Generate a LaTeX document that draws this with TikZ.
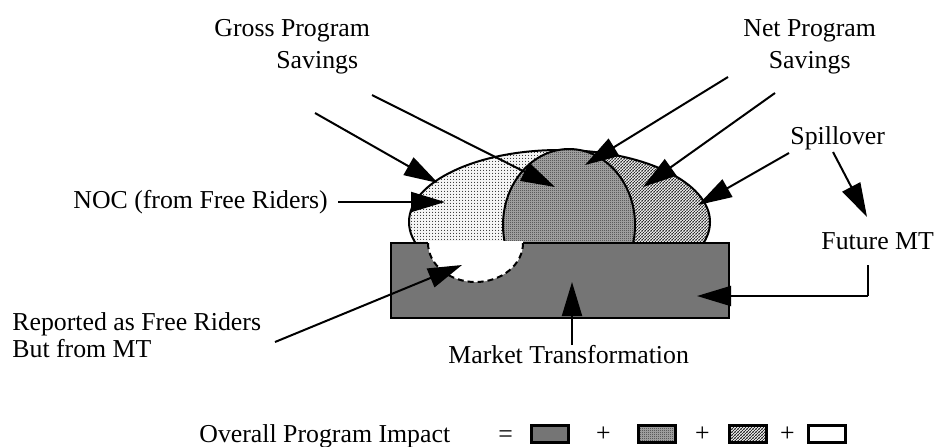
\documentclass[tikz,border=0pt]{standalone}
\usepackage{fontspec}
\setmainfont{Liberation Serif}
\usepackage{xcolor}
\usetikzlibrary{positioning,arrows.meta,patterns.meta}

\definecolor{mtgray}{gray}{0.46}
\newcommand{\lblfont}{\fontsize{12.9pt}{16pt}\selectfont}

% fine textures for the three savings areas
\tikzdeclarepattern{
  name=nocdots, type=uncolored,
  bottom left={(0pt,0pt)}, top right={(1.5pt,1.5pt)},
  tile size={(1.5pt,1.5pt)},
  code={\tikzset{x=1pt,y=1pt}\fill (0.375,0.375) circle[radius=0.33];}
}
\tikzdeclarepattern{
  name=netcheck, type=uncolored,
  bottom left={(0pt,0pt)}, top right={(1pt,1pt)},
  tile size={(1pt,1pt)},
  code={\tikzset{x=1pt,y=1pt}\fill (0,0) rectangle (0.5,0.5); \fill (0.5,0.5) rectangle (1,1);}
}
\tikzdeclarepattern{
  name=spillhatch, type=uncolored,
  bottom left={(0pt,0pt)}, top right={(1.5pt,1.5pt)},
  tile size={(1.5pt,1.5pt)},
  code={\tikzset{x=1pt,y=1pt}
    \draw[line width=0.4pt] (-0.2,-0.2) -- (1.7,1.7);
    \draw[line width=0.4pt] (-0.2,1.3) -- (0.2,1.7);
    \draw[line width=0.4pt] (1.3,-0.2) -- (1.7,0.2);}
}

\begin{document}
\begin{tikzpicture}[
  x=0.5pt, y=-0.5pt,
  lbl/.style={font=\lblfont, inner sep=0pt, anchor=base west, align=left},
  sign/.style={font=\lblfont, inner sep=0pt},
  arrow/.style={-{Triangle[length=17pt,width=10pt]}, line width=1pt},
  edge/.style={line width=1pt},
  nocfill/.style={preaction={fill=gray!8}, pattern=nocdots},
  netfill/.style={preaction={fill=gray!58}, pattern=netcheck},
  spillfill/.style={preaction={fill=gray!6}, pattern=spillhatch},
  key/.style={draw, line width=1.4pt, minimum width=18.6pt, minimum height=8.6pt, inner sep=0pt}
]
\useasboundingbox (0,0) rectangle (935,446);

% Savings areas (NOC left, spillover right, net in the middle)
\fill[nocfill] (559.5,222) ellipse [x radius=150.5, y radius=72];
\begin{scope}
  \clip (569,140) rectangle (715,250);
  \fill[spillfill] (559.5,222) ellipse [x radius=150.5, y radius=72];
\end{scope}
\draw[edge] (559.5,222) ellipse [x radius=150.5, y radius=72];
\draw[edge, netfill] (569,225) ellipse [x radius=66, y radius=76];

% Market transformation block
\draw[line width=1.3pt, fill=mtgray] (391,243) rectangle (729,318);

% Free riders that really came from MT
\begin{scope}
  \clip (400,241.6) rectangle (560,300);
  \fill[white] (475.5,243) ellipse [x radius=47.5, y radius=39];
\end{scope}
\begin{scope}
  \clip (400,243.8) rectangle (560,300);
  \draw[edge, dash pattern=on 3pt off 2pt] (475.5,243) ellipse [x radius=47.5, y radius=39];
\end{scope}

% Labels (multi-line ones sit on their last line)
\node[lbl] (gross)    at (214,68)  {Gross Program\\\hspace*{31pt}Savings};
\node[lbl, align=center] (net) at (743,68) {Net Program\\Savings};
\node[lbl] (spill)    at (790,144) {Spillover};
\node[lbl] (future)   at (821,249) {Future MT};
\node[lbl] (noc)      at (73,208)  {NOC (from Free Riders)};
\node[lbl] (reported) at (12,357)  {Reported as Free Riders\\[-2.5pt]But from MT};
\node[lbl] (market)   at (448,363) {Market Transformation};

% Arrow ends
\coordinate (grossa)  at (315,113);
\coordinate (grossb)  at (372,95);
\coordinate (neta)    at (728,77);
\coordinate (netb)    at (775,93);
\coordinate (spilla)  at (789,153);
\coordinate (spillb)  at (833,152);
\coordinate (noca)    at (338,202);
\coordinate (repa)    at (275,342);
\coordinate (marketa) at (572,345);
\coordinate (futtop)  at (868,265);
\coordinate (futbend) at (868,296);

\coordinate (nocarea)   at (438,183);
\coordinate (nocmid)    at (445,202);
\coordinate (netarea)   at (555,187);
\coordinate (nettop)    at (585,165);
\coordinate (spillarea) at (643,187);
\coordinate (spillside) at (698,205);
\coordinate (spillmt)   at (867,217);
\coordinate (reparea)   at (462,265);
\coordinate (mtbottom)  at (572,282);
\coordinate (mtright)   at (697,296);

% Arrows
\draw[arrow] (grossa)  -- (nocarea);
\draw[arrow] (grossb)  -- (netarea);
\draw[arrow] (neta)    -- (nettop);
\draw[arrow] (netb)    -- (spillarea);
\draw[arrow] (spilla)  -- (spillside);
\draw[arrow] (spillb)  -- (spillmt);
\draw[arrow] (noca)    -- (nocmid);
\draw[arrow] (repa)    -- (reparea);
\draw[arrow] (marketa) -- (mtbottom);
\draw[edge]  (futtop)  -- (futbend);
\draw[arrow] (futbend) -- (mtright);

% Key row
\node[lbl] (impact) at (199,442) {Overall Program Impact};
\node[lbl] (equals) at (498,442) {=};
\node[key, fill=mtgray] (kmarket) at (550,434) {};
\node[key, netfill, right=33.5pt of kmarket] (knet) {};
\node[key, spillfill, right=25.5pt of knet] (kspill) {};
\node[key, fill=white, right=19.5pt of kspill] (kmt) {};
\path (kmarket) -- node[sign] {+} (knet);
\path (knet) -- node[sign] {+} (kspill);
\path (kspill) -- node[sign] {+} (kmt);

\end{tikzpicture}
\end{document}
